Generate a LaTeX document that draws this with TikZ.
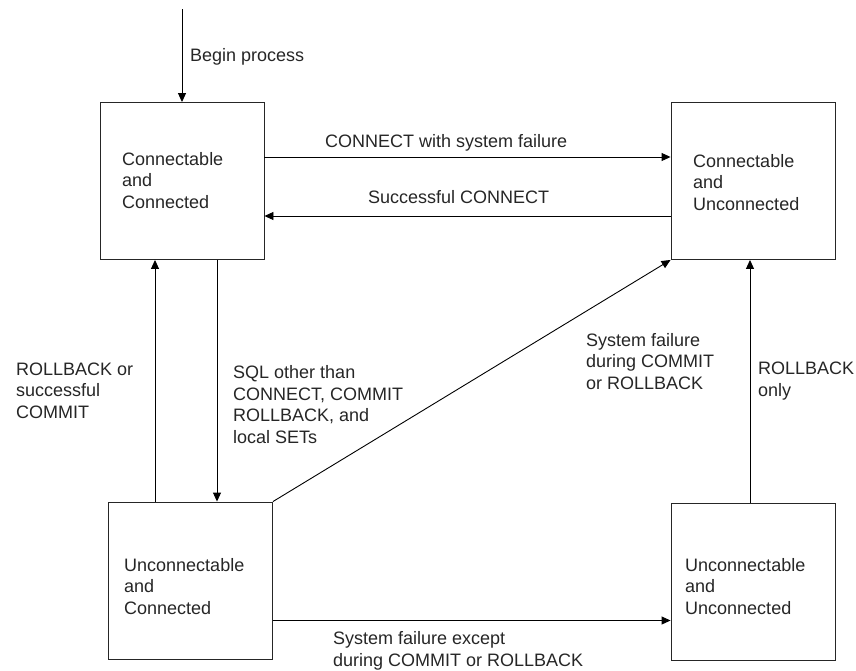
\documentclass[tikz,border=0pt]{standalone}
\usepackage{fontspec}
\setmainfont{Liberation Sans}
\usetikzlibrary{arrows.meta}

\begin{document}
\begin{tikzpicture}[x=1pt,y=-1pt,
	state/.style={draw=black!85, line width=0.9pt, minimum width=164pt, minimum height=157pt, inner sep=0pt},
	lbl/.style={anchor=base west, align=left, inner sep=0pt, text=black!85, font=\fontsize{18}{21.5}\selectfont},
	tr/.style={-{Triangle[length=9pt,width=8pt]}, line width=0.9pt}]
	\useasboundingbox (0,0) rectangle (856,670);
	\node[state] (cc) at (182,181) {};
	\node[state] (cu) at (753,181) {};
	\node[state] (uc) at (190.5,580.5) {};
	\node[state] (uu) at (753,581.5) {};
	\node[lbl] (tcc) at (122,208) {Connectable\\and\\Connected};
	\node[lbl] (tcu) at (693,210) {Connectable\\and\\Unconnected};
	\node[lbl] (tuc) at (124,614) {Unconnectable\\and\\Connected};
	\node[lbl] (tuu) at (685,614) {Unconnectable\\and\\Unconnected};
	\coordinate (start) at (182,9);
	\draw[tr] (start) -- (cc.north);
	\node[lbl] (begin) at (190,61) {Begin process};
	\draw[tr] ([yshift=24pt]cc.east) -- ([yshift=24pt]cc.east -| cu.west);
	\node[lbl] (fail) at (325,147) {CONNECT with system failure};
	\draw[tr] ([yshift=-35pt]cu.west) -- ([yshift=-35pt]cu.west -| cc.east);
	\node[lbl] (succ) at (368,203) {Successful CONNECT};
	\draw[tr] ([xshift=35pt]cc.south) -- ([xshift=35pt]cc.south |- uc.north);
	\node[lbl] (sql) at (233,443) {SQL other than\\CONNECT, COMMIT\\ROLLBACK, and\\local SETs};
	\draw[tr] ([xshift=-27pt]cc.south |- uc.north) -- ([xshift=-27pt]cc.south);
	\node[lbl] (rbc) at (16,418) {ROLLBACK or\\successful\\COMMIT};
	\draw[tr] (uc.north east) -- (cu.south west);
	\node[lbl] (sfd) at (586,389) {System failure\\during COMMIT\\or ROLLBACK};
	\draw[tr] ([xshift=-3pt]uu.north) -- ([xshift=-3pt]cu.south);
	\node[lbl] (rbo) at (758,396) {ROLLBACK\\only};
	\draw[tr] ([yshift=-40pt]uc.east) -- ([yshift=-40pt]uc.east -| uu.west);
	\node[lbl] (sfe) at (333,666) {System failure except\\during COMMIT or ROLLBACK};
\end{tikzpicture}
\end{document}
